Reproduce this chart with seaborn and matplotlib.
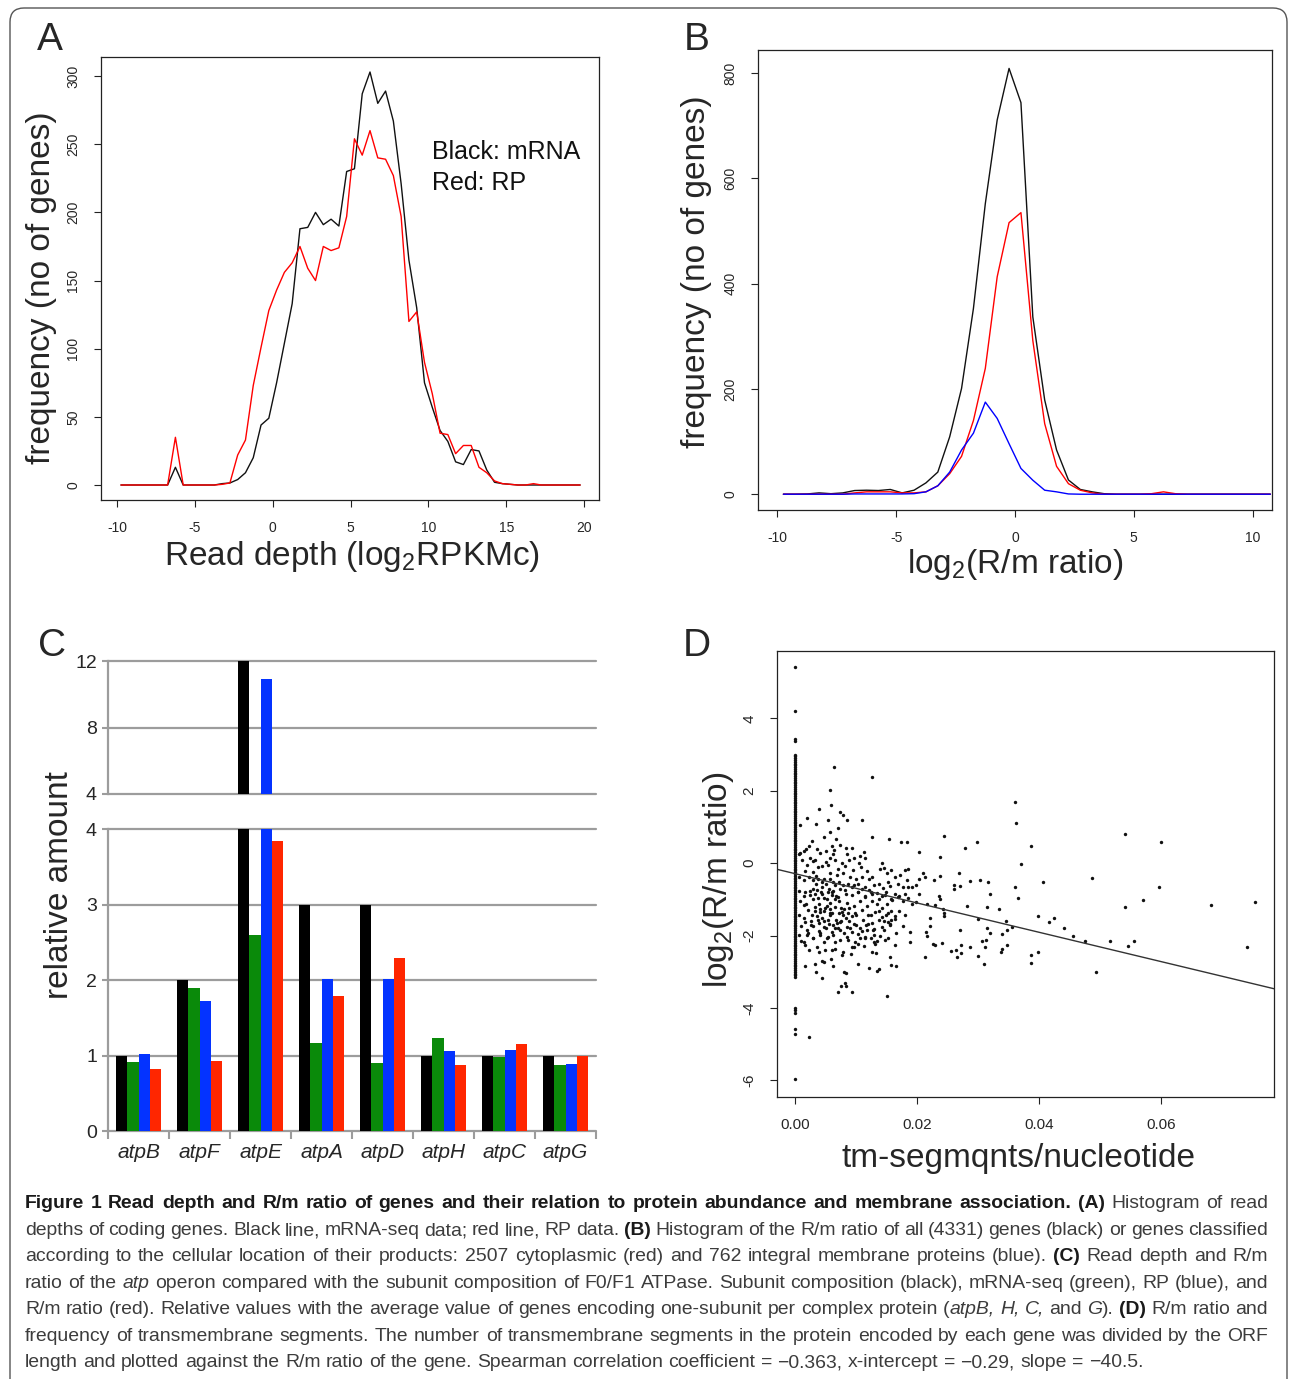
"""
Figure 1 rebuild: read depth histograms, R/m ratio histograms,
atp operon bar chart (broken axis) and tm-segment scatter.
"""

import matplotlib
matplotlib.use("Agg")
import matplotlib.pyplot as plt
import numpy as np
import pandas as pd
import seaborn as sns
from matplotlib import font_manager
from matplotlib.patches import FancyBboxPatch

W, H = 1290, 1379

# --- Panel A: read depth histogram (bin centres, counts) ---
A_X = np.arange(-9.75, 20.0, 0.5)
A_MRNA = [0, 0, 0, 0, 0, 0, 0, 13, 0, 0,
          0, 0, 0, 1, 1.5, 4, 9, 20, 44, 49,
          75, 104, 133, 188, 189, 200, 191, 195, 190, 230,
          232, 287, 303, 280, 289, 267, 221, 165, 130, 75,
          57, 40, 32, 17, 15, 26, 25, 11, 2, 1,
          0.5, 0, 0, 0, 0, 0, 0, 0, 0, 0]
A_RP = [0, 0, 0, 0, 0, 0, 0, 35, 0, 0,
        0, 0, 0, 0.5, 1.5, 22, 33, 73, 101, 128,
        143, 156, 163, 175, 159, 150, 175, 172, 174, 197,
        254, 242, 260, 240, 239, 227, 197, 120, 127, 90,
        67, 38, 37, 23, 29, 29, 13, 9, 3, 1,
        0.5, 0, 0, 1, 0, 0, 0, 0, 0, 0]

# --- Panel B: R/m ratio histogram ---
B_X = np.arange(-9.75, 11.0, 0.5)
B_ALL = [0, 0, 0.5, 2.5, 1, 2.5, 7, 7.6, 7, 9,
         2.5, 7.6, 21.5, 42, 109, 201, 353, 552, 711, 809,
         744, 337, 179, 84, 27, 9, 4.5, 1, 0, 0,
         0, 0, 0, 0, 0, 0, 0, 0, 0, 0,
         0, 0]
B_CYTO = [0, 0, 0, 0, 0, 0, 2.5, 4.5, 4.5, 4.5,
          2.5, 2.5, 4.5, 16, 39, 72, 140, 239, 413, 516,
          535, 292, 134, 53, 20, 7.6, 2.5, 0, 0, 0,
          0, 1, 4.5, 1, 0, 0, 0, 0, 0, 0,
          0, 0]
B_MEMB = [0, 0, 0, 0, 0, 0, 0.5, 0.5, 0.5, 0.5,
          0.5, 1, 4.5, 16, 42, 84, 116, 175, 144, 96,
          49, 26.6, 7.6, 4.5, 0.5, 0, 0, 0, 0, 0,
          0, 0, 0, 0, 0, 0, 0, 0, 0, 0,
          0, 0]

# --- Panel C: atp operon relative amounts ---
C_GENES = ["atpB", "atpF", "atpE", "atpA", "atpD", "atpH", "atpC", "atpG"]
C_SUBUNIT = [1, 2, 12, 3, 3, 1, 1, 1]
C_MRNA = [0.91, 1.90, 2.60, 1.17, 0.90, 1.23, 0.98, 0.88]
C_RP = [1.02, 1.72, 10.9, 2.01, 2.01, 1.06, 1.07, 0.89]
C_RM = [0.82, 0.93, 3.84, 1.79, 2.29, 0.88, 1.15, 1.00]
C_SERIES = ["subunit", "mRNA-seq", "RP", "R/m"]
C_COLORS = {"subunit": "#000000", "mRNA-seq": "#0a8a0a", "RP": "#0433ff", "R/m": "#ff2600"}

# --- Panel D: tm segments per nucleotide vs log2(R/m) ---
D_ZERO_Y = [5.41, 4.19, 3.44, 3.38,
            3.00, 2.95, 2.90, 2.85, 2.80, 2.75, 2.70, 2.65, 2.60, 2.55,
            2.50, 2.45, 2.40, 2.35, 2.30, 2.25, 2.20, 2.15, 2.10, 2.05,
            2.00, 1.95, 1.90, 1.85, 1.80, 1.75, 1.70, 1.65, 1.60, 1.55,
            1.50, 1.45, 1.40, 1.35, 1.30, 1.25, 1.20, 1.15, 1.10, 1.05,
            1.00, 0.95, 0.90, 0.85, 0.80, 0.75, 0.70, 0.65, 0.60, 0.55,
            0.50, 0.45, 0.40, 0.35, 0.30, 0.25, 0.20, 0.15, 0.10, 0.05,
            0.00, -0.05, -0.10, -0.15, -0.20, -0.25, -0.30, -0.35, -0.40, -0.45,
            -0.50, -0.55, -0.60, -0.65, -0.70, -0.75, -0.80, -0.85, -0.90, -0.95,
            -1.00, -1.05, -1.10, -1.15, -1.20, -1.25, -1.30, -1.35, -1.40, -1.45,
            -1.50, -1.55, -1.60, -1.65, -1.70, -1.75, -1.80, -1.85, -1.90, -1.95,
            -2.00, -2.05, -2.10, -2.15, -2.20, -2.25, -2.30, -2.35, -2.40, -2.45,
            -2.50, -2.55, -2.60, -2.65, -2.70, -2.75, -2.80, -2.85, -2.90, -2.95,
            -3.00, -3.05, -3.10, -3.15,
            -4.00, -4.06, -4.13, -4.58, -4.73, -5.95]
D_CLOUD = [
    (0.0064, 2.65), (0.0126, 2.39), (0.0057, 2.03), (0.0040, 1.49), (0.0059, 1.60),
    (0.0074, 1.42), (0.0078, 1.34), (0.0086, 1.20), (0.0110, 1.19), (0.0020, 1.26),
    (0.0009, 1.04), (0.0035, 1.09), (0.0054, 1.18), (0.0057, 0.87), (0.0071, 0.96),
    (0.0127, 0.73), (0.0154, 0.67), (0.0174, 0.59), (0.0183, 0.59), (0.0204, 0.31),
    (0.0244, 0.74), (0.0279, 0.43), (0.0298, 0.58), (0.0361, 1.69), (0.0363, 1.12),
    (0.0387, 0.48), (0.0370, -0.01), (0.0540, 0.80), (0.0600, 0.58), (0.0237, 0.17),
    (0.0486, -0.42), (0.0407, -0.53), (0.0596, -0.66), (0.0361, -0.66), (0.0366, -0.96),
    (0.0570, -1.01), (0.0540, -1.20), (0.0682, -1.16), (0.0754, -1.07), (0.0398, -1.47),
    (0.0417, -1.63), (0.0424, -1.51), (0.0441, -1.80), (0.0456, -2.00), (0.0475, -2.15),
    (0.0517, -2.15), (0.0555, -2.15), (0.0546, -2.30), (0.0740, -2.33), (0.0493, -3.01),
    (0.0387, -2.53), (0.0398, -2.46), (0.0387, -2.77), (0.0348, -1.84), (0.0345, -1.61),
    (0.0355, -1.76), (0.0340, -1.95), (0.0338, -2.46), (0.0347, -2.27), (0.0340, -2.36),
    (0.0335, -1.28), (0.0317, -0.52), (0.0320, -0.85), (0.0304, -0.47), (0.0287, -0.50),
    (0.0314, -1.20), (0.0300, -1.53), (0.0314, -1.78), (0.0319, -1.92), (0.0313, -2.13),
    (0.0306, -2.15), (0.0312, -2.33), (0.0300, -2.57), (0.0309, -2.78), (0.0287, -2.32),
    (0.0272, -2.27), (0.0264, -2.41), (0.0272, -2.48), (0.0265, -2.59), (0.0256, -2.44),
    (0.0241, -2.21), (0.0226, -2.22), (0.0213, -2.59), (0.0229, -2.27), (0.0271, -1.84),
    (0.0282, -1.19), (0.0270, -0.63), (0.0260, -0.71), (0.0260, -0.61), (0.0269, -0.28),
    (0.0245, -1.37), (0.0244, -1.47), (0.0242, -1.28), (0.0238, -0.99), (0.0229, -1.15),
    (0.0217, -1.12), (0.0222, -1.51), (0.0222, -1.74), (0.0215, -1.89), (0.0217, -2.00),
    (0.0236, -0.90), (0.0238, -0.36), (0.0227, -0.47), (0.0213, -0.38), (0.0209, -0.28),
    (0.0203, -0.43), (0.0198, -0.60), (0.0203, -0.86), (0.0198, -1.06), (0.0191, -1.13),
    (0.0189, -1.89), (0.0189, -2.17), (0.0191, -0.66), (0.0186, -0.17), (0.0177, -0.66),
    (0.0177, -1.04), (0.0177, -1.75), (0.0165, -1.94), (0.0165, -2.84), (0.0157, -2.82),
    (0.0155, -2.60), (0.0150, -3.67), (0.0153, -1.63), (0.0155, -1.70), (0.0158, -1.32),
    (0.0150, -1.12), (0.0146, -1.84), (0.0143, 0.00), (0.0146, -0.14), (0.0137, -2.93),
    (0.0134, -2.98), (0.0121, -2.91), (0.0132, -2.49), (0.0130, -2.17), (0.0134, -2.15),
    (0.0129, -1.82), (0.0127, -2.46), (0.0113, -2.30), (0.0103, -2.22), (0.0103, -1.97),
    (0.0094, -1.89), (0.0094, -3.57), (0.0083, -3.40), (0.0082, -3.31), (0.0076, -3.40),
    (0.0070, -3.57), (0.0084, -3.04), (0.0081, -3.01), (0.0063, -2.84), (0.0047, -2.74),
    (0.0044, -3.17), (0.0035, -3.02), (0.0032, -2.79), (0.0023, -4.80), (0.0017, -2.84),
    (0.0040, -2.46), (0.0023, -2.41), (0.0015, -2.17), (0.0010, -2.15), (0.0021, -1.94),
    (0.0059, -2.65), (0.0045, -2.69), (0.0077, -2.53), (0.0092, -2.50), (0.0103, -2.79),
    (0.0066, -2.17), (0.0074, -1.84), (0.0054, -2.03), (0.0060, -2.41),
    (0.0009, 0.28), (0.0006, 0.24), (0.0015, 0.33), (0.0023, 0.47), (0.0018, 0.38),
    (0.0025, 0.14), (0.0032, 0.09), (0.0041, 0.28), (0.0047, 0.71), (0.0060, 0.47),
    (0.0063, 0.24), (0.0067, 0.66), (0.0073, 0.49), (0.0084, 0.41), (0.0094, 0.43),
    (0.0097, 0.14), (0.0106, 0.19), (0.0113, 0.31), (0.0115, 0.13), (0.0105, 0.00),
    (0.0089, 0.09), (0.0077, 0.00), (0.0066, 0.09), (0.0054, -0.05), (0.0045, -0.09),
    (0.0029, -0.24), (0.0017, -0.21), (0.0007, -0.38), (0.0014, -0.47), (0.0023, -0.38),
    (0.0035, -0.36), (0.0047, -0.43), (0.0057, -0.28), (0.0069, -0.33), (0.0079, -0.26),
    (0.0090, -0.38), (0.0100, -0.44), (0.0110, -0.38), (0.0121, -0.44), (0.0127, -0.38),
    (0.0140, -0.17), (0.0151, -0.28), (0.0164, -0.38), (0.0169, -0.59), (0.0155, -0.64),
    (0.0145, -0.68), (0.0134, -0.83), (0.0121, -0.74), (0.0114, -0.90), (0.0103, -0.80),
    (0.0094, -0.66), (0.0084, -0.85), (0.0074, -0.71), (0.0065, -0.61), (0.0054, -0.80),
    (0.0044, -0.66), (0.0035, -0.59), (0.0024, -0.76), (0.0014, -0.90), (0.0007, -0.76),
    (0.0009, -1.04), (0.0018, -1.13), (0.0029, -0.99), (0.0039, -1.13), (0.0047, -0.95),
    (0.0057, -1.09), (0.0066, -0.99), (0.0075, -1.23), (0.0086, -1.09), (0.0097, -1.18),
    (0.0106, -1.04), (0.0118, -1.18), (0.0127, -1.04), (0.0138, -1.32), (0.0124, -1.42),
    (0.0112, -1.56), (0.0100, -1.42), (0.0089, -1.61), (0.0078, -1.42), (0.0067, -1.56),
    (0.0057, -1.42), (0.0047, -1.61), (0.0036, -1.47), (0.0026, -1.61), (0.0014, -1.51),
    (0.0007, -1.42), (0.0010, -1.75), (0.0020, -1.84), (0.0029, -1.75), (0.0040, -1.87),
    (0.0050, -1.78), (0.0060, -1.91), (0.0071, -1.78), (0.0081, -1.94), (0.0090, -1.78),
    (0.0100, -1.70), (0.0109, -1.87), (0.0120, -1.68), (0.0007, -1.98), (0.0029, -2.08),
    (0.0047, -2.17), (0.0041, -1.98), (0.0087, -2.13), (0.0097, -2.32),
    (0.0029, -0.71), (0.0032, -0.85), (0.0038, -0.95), (0.0042, -0.80), (0.0050, -0.59),
    (0.0055, -0.71), (0.0060, -0.87), (0.0063, -0.76), (0.0067, -0.90), (0.0072, -1.04),
    (0.0052, -1.18), (0.0057, -1.28), (0.0061, -1.37), (0.0047, -1.32), (0.0041, -1.28),
    (0.0033, -1.32), (0.0028, -1.42), (0.0040, -1.65), (0.0044, -1.51), (0.0054, -1.56),
    (0.0063, -1.70), (0.0069, -1.65), (0.0075, -1.61), (0.0072, -1.37), (0.0081, -1.28),
    (0.0087, -1.37), (0.0084, -1.51), (0.0094, -1.47), (0.0029, -0.47), (0.0038, -0.43),
    (0.0044, -0.52), (0.0057, -0.45), (0.0063, -0.52), (0.0072, -0.52), (0.0078, -0.61),
    (0.0087, -0.57), (0.0097, -0.61), (0.0103, -0.59), (0.0109, -0.71), (0.0115, -0.66),
    (0.0124, -0.80), (0.0130, -0.61), (0.0137, -0.57), (0.0143, -0.90), (0.0149, -0.80),
    (0.0158, -0.99), (0.0164, -0.85), (0.0170, -0.90), (0.0180, -0.85), (0.0186, -0.95),
    (0.0183, -0.47), (0.0186, -0.66), (0.0172, -0.33), (0.0180, -0.19), (0.0158, -0.19),
    (0.0152, -0.52), (0.0134, -1.13), (0.0143, -1.23), (0.0149, -1.42), (0.0164, -1.47),
    (0.0170, -1.32), (0.0180, -1.42), (0.0158, -1.56), (0.0146, -1.61), (0.0137, -1.56),
    (0.0127, -1.65), (0.0118, -1.84), (0.0130, -1.98), (0.0140, -2.00), (0.0152, -2.08),
    (0.0115, -2.03), (0.0106, -2.08), (0.0124, -2.08),
    (0.0016, -0.79), (0.0025, -0.88), (0.0036, -0.75), (0.0044, -0.84), (0.0052, -0.98),
    (0.0060, -0.79), (0.0071, -0.93), (0.0082, -0.75), (0.0093, -0.88), (0.0104, -0.79),
    (0.0115, -0.93), (0.0126, -0.84), (0.0137, -0.98), (0.0148, -0.88), (0.0159, -1.02),
    (0.0169, -0.93), (0.0014, -1.16), (0.0022, -1.30), (0.0033, -1.20), (0.0041, -1.34),
    (0.0049, -1.25), (0.0057, -1.39), (0.0066, -1.20), (0.0077, -1.34), (0.0088, -1.25),
    (0.0099, -1.39), (0.0109, -1.30), (0.0120, -1.44), (0.0131, -1.34), (0.0142, -1.48),
    (0.0153, -1.39), (0.0164, -1.53), (0.0016, -1.62), (0.0027, -1.71), (0.0038, -1.57),
    (0.0047, -1.76), (0.0055, -1.67), (0.0066, -1.80), (0.0074, -1.62), (0.0085, -1.76),
    (0.0096, -1.67), (0.0107, -1.80), (0.0117, -1.71), (0.0128, -1.85), (0.0142, -1.76),
    (0.0156, -1.67), (0.0019, -1.99), (0.0030, -2.08), (0.0041, -1.94), (0.0052, -2.08),
    (0.0063, -1.99), (0.0074, -2.13), (0.0085, -2.03), (0.0099, -2.17), (0.0115, -2.08),
    (0.0131, -2.22), (0.0148, -2.13), (0.0164, -2.27), (0.0016, -2.27), (0.0036, -2.31),
    (0.0049, -2.40), (0.0066, -2.36), (0.0079, -2.45), (0.0093, -2.31),
    (0.0012, 0.10), (0.0020, -0.05), (0.0030, 0.05), (0.0038, -0.12), (0.0050, 0.02),
    (0.0058, 0.15), (0.0070, -0.15), (0.0082, -0.08), (0.0095, -0.20), (0.0108, -0.10),
    (0.0118, -0.22), (0.0036, 0.38), (0.0050, 0.33), (0.0085, 0.25), (0.0028, 0.60),
    (0.0064, 0.35),
]
D_INTERCEPT = -0.29
D_SLOPE = -40.5

# --- style ---
sns.set_theme(style="white")
plt.rcParams["font.family"] = ["Liberation Sans", "DejaVu Sans"]
plt.rcParams["axes.unicode_minus"] = False
plt.rcParams["mathtext.fontset"] = "custom"
plt.rcParams["mathtext.rm"] = "Liberation Sans"
plt.rcParams["mathtext.it"] = "Liberation Sans:italic"

font_names = {f.name for f in font_manager.fontManager.ttflist}
CAP_FAMILY = ["Liberation Sans Narrow", "Liberation Sans"] if "Liberation Sans Narrow" in font_names \
    else ["Liberation Sans", "DejaVu Sans"]


def rect(x0, y0, x1, y1):
    """Pixel box (top-left origin) -> figure fraction rect."""
    return [x0 / W, 1 - y1 / H, (x1 - x0) / W, (y1 - y0) / H]


def ftext(x, y, s, **kw):
    return fig.text(x / W, 1 - y / H, s, **kw)


def r_style(ax, xticks, yticks, xlim, ylim, fs, xfmt=None):
    ax.set_xlim(xlim)
    ax.set_ylim(ylim)
    ax.set_xticks(xticks)
    ax.set_yticks(yticks)
    if xfmt:
        ax.set_xticklabels([xfmt.format(t) for t in xticks])
    for s in ax.spines.values():
        s.set_visible(True)
        s.set_color("#222222")
        s.set_linewidth(0.9)
    ax.tick_params(direction="out", length=5, width=0.8, color="#222222",
                   labelsize=fs, pad=10, bottom=True, left=True)
    ax.tick_params(axis="y", labelrotation=90)
    plt.setp(ax.get_yticklabels(), va="center")
    ax.set_xlabel("")
    ax.set_ylabel("")


fig = plt.figure(figsize=(W / 100, H / 100), dpi=100)
fig.patch.set_facecolor("white")

# outer rounded frame
fig.patches.append(FancyBboxPatch((10, -30), 1277, 1401, boxstyle="round,pad=0,rounding_size=14",
                                  transform=None, facecolor="none", edgecolor="#555555", lw=1.0))

# ---------------- Panel A ----------------
ax_a = fig.add_axes(rect(101, 57, 599, 500))
sns.lineplot(x=A_X, y=A_MRNA, color="#111111", lw=1.0, ax=ax_a)
sns.lineplot(x=A_X, y=A_RP, color="#ff0000", lw=1.0, ax=ax_a)
r_style(ax_a, [-10, -5, 0, 5, 10, 15, 20], [0, 50, 100, 150, 200, 250, 300],
        (-11.03, 20.96), (-11, 314), 10)
ftext(432, 152, "Black: mRNA", fontsize=18, ha="left", va="center", color="#111111")
ftext(432, 183, "Red: RP", fontsize=18, ha="left", va="center", color="#111111")
ftext(352, 557, "Read depth (log$_2$RPKMc)", fontsize=24, ha="center", va="center")
ftext(42, 288, "frequency (no of genes)", fontsize=24, ha="center", va="center", rotation=90)
ftext(50, 40, "A", fontsize=28, ha="center", va="center")

# ---------------- Panel B ----------------
ax_b = fig.add_axes(rect(758, 50, 1272, 510))
sns.lineplot(x=B_X, y=B_ALL, color="#111111", lw=1.0, ax=ax_b)
sns.lineplot(x=B_X, y=B_CYTO, color="#ff0000", lw=1.0, ax=ax_b)
sns.lineplot(x=B_X, y=B_MEMB, color="#0000ff", lw=1.0, ax=ax_b)
r_style(ax_b, [-10, -5, 0, 5, 10], [0, 200, 400, 600, 800],
        (-10.82, 10.82), (-30, 844), 10)
ftext(1015, 565, "log$_2$(R/m ratio)", fontsize=24, ha="center", va="center")
ftext(697, 272, "frequency (no of genes)", fontsize=24, ha="center", va="center", rotation=90)
ftext(697, 40, "B", fontsize=28, ha="center", va="center")

# ---------------- Panel C (broken axis) ----------------
df_c = pd.DataFrame({
    "gene": C_GENES * 4,
    "series": [s for s in C_SERIES for _ in C_GENES],
    "value": C_SUBUNIT + C_MRNA + C_RP + C_RM,
})
ax_ct = fig.add_axes(rect(108, 661, 596, 794))
ax_cb = fig.add_axes(rect(108, 829, 596, 1131))
grid_col = "#9c9c9c"
for ax, lim, ticks in [(ax_ct, (4, 12), [4, 8, 12]), (ax_cb, (0, 4), [0, 1, 2, 3, 4])]:
    for t in ticks:
        ax.axhline(t, color=grid_col, lw=1.6, zorder=0, clip_on=False)
    sns.barplot(data=df_c, x="gene", y="value", hue="series", order=C_GENES,
                hue_order=C_SERIES, palette=C_COLORS, width=0.75, saturation=1,
                errorbar=None, legend=False, linewidth=0, ax=ax, zorder=2)
    ax.set_ylim(lim)
    ax.set_yticks(ticks)
    ax.set_xlim(-0.5, 7.5)
    for side in ["top", "right", "bottom"]:
        ax.spines[side].set_visible(False)
    ax.spines["left"].set_color(grid_col)
    ax.spines["left"].set_linewidth(1.6)
    ax.tick_params(axis="y", left=True, length=4, width=1.5, color=grid_col,
                   labelsize=14, pad=4)
    ax.set_xlabel("")
    ax.set_ylabel("")
ax_ct.tick_params(axis="x", bottom=False, labelbottom=False)
ax_cb.set_xticks(np.arange(-0.5, 8.0, 1.0), minor=True)
ax_cb.tick_params(axis="x", which="minor", bottom=True, length=6, width=1.5, color=grid_col)
ax_cb.tick_params(axis="x", which="major", bottom=False, length=0, labelsize=15, pad=9)
plt.setp(ax_cb.get_xticklabels(), style="italic")
ftext(60, 885, "relative amount", fontsize=24, ha="center", va="center", rotation=90)
ftext(52, 646, "C", fontsize=28, ha="center", va="center")

# ---------------- Panel D ----------------
ax_d = fig.add_axes(rect(777, 651, 1274, 1097))
cloud = pd.DataFrame(D_CLOUD, columns=["tm", "logrm"])
zero = pd.DataFrame({"tm": [0.0] * len(D_ZERO_Y), "logrm": D_ZERO_Y})
sns.scatterplot(data=pd.concat([zero, cloud]), x="tm", y="logrm", s=6, color="#111111",
                linewidth=0, ax=ax_d)
ax_d.axline((0, D_INTERCEPT), slope=D_SLOPE, color="#333333", lw=1.0)
r_style(ax_d, [0.0, 0.02, 0.04, 0.06], [-6, -4, -2, 0, 2, 4],
        (-0.00295, 0.0785), (-6.46, 5.86), 11, xfmt="{:.2f}")
ftext(1018, 1158, "tm-segmqnts/nucleotide", fontsize=24, ha="center", va="center")
ftext(718, 880, "log$_2$(R/m ratio)", fontsize=24, ha="center", va="center", rotation=90)
ftext(697, 646, "D", fontsize=28, ha="center", va="center")

# ---------------- Caption ----------------
N, B, I = ("normal", "normal"), ("bold", "normal"), ("normal", "italic")
CAPTION = [
    [("Figure 1 Read depth and R/m ratio of genes and their relation to protein abundance "
      "and membrane association. (A)", B), (" Histogram of read", N)],
    [("depths of coding genes. Black line, mRNA-seq data; red line, RP data. ", N), ("(B)", B),
     (" Histogram of the R/m ratio of all (4331) genes (black) or genes classified", N)],
    [("according to the cellular location of their products: 2507 cytoplasmic (red) and 762 "
      "integral membrane proteins (blue). ", N), ("(C)", B), (" Read depth and R/m", N)],
    [("ratio of the ", N), ("atp", I), (" operon compared with the subunit composition of F0/F1 "
     "ATPase. Subunit composition (black), mRNA-seq (green), RP (blue), and", N)],
    [("R/m ratio (red). Relative values with the average value of genes encoding one-subunit "
      "per complex protein (", N), ("atpB, H, C,", I), (" and ", N), ("G", I), ("). ", N),
     ("(D)", B), (" R/m ratio and", N)],
    [("frequency of transmembrane segments. The number of transmembrane segments in the "
      "protein encoded by each gene was divided by the ORF", N)],
    [("length and plotted against the R/m ratio of the gene. Spearman correlation coefficient "
      "= \u22120.363, x-intercept = \u22120.29, slope = \u221240.5.", N)],
]
CAP_LEFT, CAP_RIGHT, LAST_LINE_W = 25, 1268, 1116
CAP_BASELINES = [1208, 1235, 1261, 1288, 1314, 1341, 1367]

renderer = fig.canvas.get_renderer()


def text_w(s, fs, weight="normal", style="normal"):
    t = fig.text(0, 0, s, fontsize=fs, family=CAP_FAMILY, weight=weight, style=style)
    w = t.get_window_extent(renderer=renderer).width
    t.remove()
    return w


cap_fs = 10 * LAST_LINE_W / text_w("".join(s for s, _ in CAPTION[-1]), 10)
space_w = text_w("a a", cap_fs) - text_w("aa", cap_fs)

for line_no, (segments, base) in enumerate(zip(CAPTION, CAP_BASELINES)):
    words, cur = [], []
    for text, (weight, style) in segments:
        for i, part in enumerate(text.split(" ")):
            if i > 0 and cur:
                words.append(cur)
                cur = []
            if part:
                cur.append((part, weight, style))
    if cur:
        words.append(cur)
    widths = [[text_w(p, cap_fs, w, st) for p, w, st in word] for word in words]
    total = sum(sum(ws) for ws in widths)
    justify = line_no < len(CAPTION) - 1
    gap = (CAP_RIGHT - CAP_LEFT - total) / (len(words) - 1) if justify else space_w
    x = CAP_LEFT
    for word, ws in zip(words, widths):
        for (p, weight, style), w in zip(word, ws):
            col = "#1a1a1a" if weight == "bold" else "#3c3c3c"
            ftext(x, base, p, fontsize=cap_fs, family=CAP_FAMILY, weight=weight,
                  style=style, color=col, ha="left", va="baseline")
            x += w
        x += gap

fig.savefig("out.png", dpi=100)
plt.close(fig)
